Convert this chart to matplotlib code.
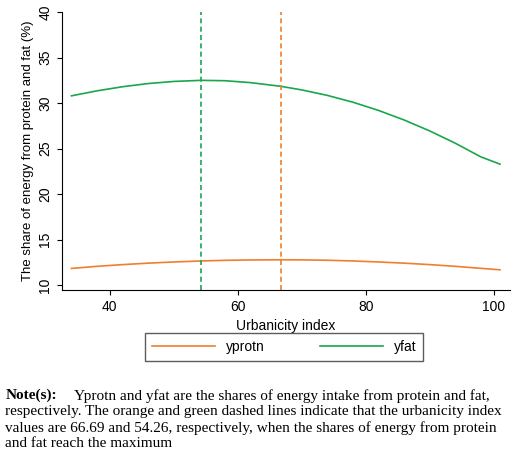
import matplotlib
matplotlib.use("Agg")
import matplotlib.pyplot as plt
from matplotlib.lines import Line2D

plt.rcParams["font.family"] = ["Liberation Sans", "DejaVu Sans"]

x = [34, 38, 42, 46, 50, 54.26, 58, 62, 66.69, 70, 74, 78, 82, 86, 90, 94, 98, 101]
yprotn = [11.85, 12.08, 12.27, 12.43, 12.56, 12.67, 12.74, 12.78, 12.8, 12.79, 12.75, 12.67, 12.56, 12.43, 12.27, 12.08, 11.86, 11.7]
yfat = [30.8, 31.35, 31.8, 32.15, 32.38, 32.5, 32.46, 32.25, 31.85, 31.45, 30.85, 30.1, 29.2, 28.15, 26.95, 25.6, 24.1, 23.3]
vlines = [66.69, 54.26]
xticks = [40, 60, 80, 100]
yticks = [10, 15, 20, 25, 30, 35, 40]
orange = "#f07f2a"
green = "#1aa64a"

fig = plt.figure(figsize=(5.2, 4.63), dpi=100)
ax = fig.add_axes([0.119, 0.374, 0.861, 0.6])
ax.plot(x, yprotn, color=orange, lw=1.2)
ax.plot(x, yfat, color=green, lw=1.2)
ax.axvline(vlines[0], color=orange, ls=(0, (3, 2)), lw=1.2)
ax.axvline(vlines[1], color=green, ls=(0, (3, 2)), lw=1.2)
ax.set_xlim(32.5, 102.5)
ax.set_ylim(9.5, 40)
ax.set_xticks(xticks)
ax.set_yticks(yticks)
ax.set_yticklabels([str(v) for v in yticks], rotation=90, va="center")
ax.tick_params(labelsize=10)
ax.set_xlabel("Urbanicity index", fontsize=10)
ax.set_ylabel("The share of energy from protein and fat (%)", fontsize=9.5, labelpad=3)
for s in ["top", "right"]:
    ax.spines[s].set_visible(False)

handles = [Line2D([], [], color=orange, lw=1.2), Line2D([], [], color=green, lw=1.2)]
fig.legend(handles, ["yprotn", "yfat"], loc="center", bbox_to_anchor=(0.547, 0.25),
           ncol=2, frameon=True, fancybox=False, edgecolor="#333333", fontsize=10,
           handlelength=4.5, columnspacing=4, borderpad=0.5)

fig.text(0.01, 0.16, "Note(s):", fontsize=11, family="Liberation Serif", weight="bold", va="top")
fig.text(0.01, 0.16, "                  Yprotn and yfat are the shares of energy intake from protein and fat,\n"
         "respectively. The orange and green dashed lines indicate that the urbanicity index\n"
         "values are 66.69 and 54.26, respectively, when the shares of energy from protein\n"
         "and fat reach the maximum",
         fontsize=11, family="Liberation Serif", va="top", linespacing=1.25)
fig.savefig("out.png", dpi=100)
